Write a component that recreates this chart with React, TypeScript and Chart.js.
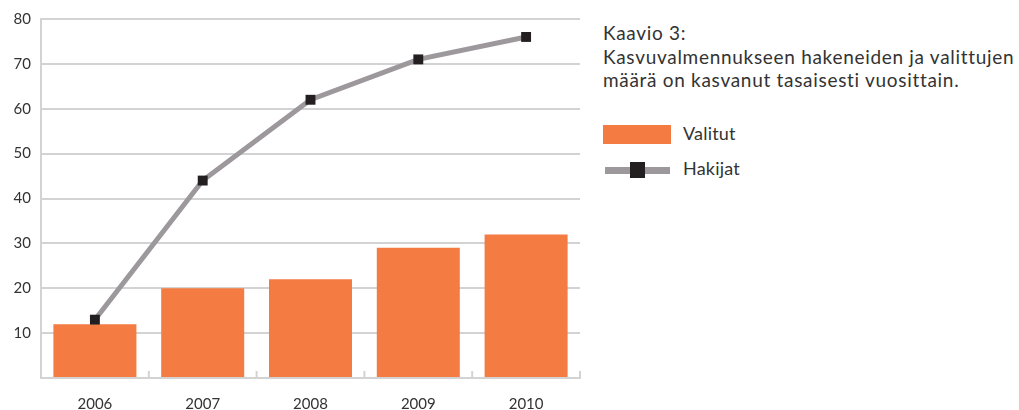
import React, { useEffect, useRef } from "react";
import { Chart, registerables } from "chart.js";

Chart.register(...registerables);

const years = ["2006", "2007", "2008", "2009", "2010"];
const valitut = [12, 20, 22, 29, 32];
const hakijat = [13, 44, 62, 71, 76];
const yTicks = [10, 20, 30, 40, 50, 60, 70, 80];

const captionTitle = "Kaavio 3:";
const captionLines = [
  "Kasvuvalmennukseen hakeneiden ja valittujen",
  "määrä on kasvanut tasaisesti vuosittain.",
];
const legendValitut = "Valitut";
const legendHakijat = "Hakijat";

const ORANGE = "#f47b42";
const LINE_GREY = "#9d989c";
const MARKER = "#231f20";
const GRID = "#d3d3d3";
const TEXT = "#333333";
const FONT = "Lato, 'Open Sans', sans-serif";

const boundaryTicks = {
  id: "boundaryTicks",
  afterDraw(chart: any) {
    const x = chart.scales.x;
    const area = chart.chartArea;
    const ctx = chart.ctx;
    ctx.save();
    ctx.strokeStyle = GRID;
    ctx.lineWidth = 2;
    for (let i = 1; i <= years.length; i++) {
      const px =
        i < years.length
          ? (x.getPixelForValue(i - 1) + x.getPixelForValue(i)) / 2
          : area.right;
      ctx.beginPath();
      ctx.moveTo(px, area.bottom);
      ctx.lineTo(px, area.bottom - 7);
      ctx.stroke();
    }
    ctx.restore();
  },
};

export default function App() {
  const ref = useRef<HTMLCanvasElement | null>(null);

  useEffect(() => {
    if (!ref.current) return;
    const chart = new Chart(ref.current, {
      type: "bar",
      data: {
        labels: years,
        datasets: [
          {
            type: "line",
            label: legendHakijat,
            data: hakijat,
            borderColor: LINE_GREY,
            borderWidth: 5,
            pointStyle: "rect",
            pointRadius: 7,
            pointBackgroundColor: MARKER,
            pointBorderColor: MARKER,
            pointBorderWidth: 0,
            tension: 0,
            order: 1,
          } as any,
          {
            type: "bar",
            label: legendValitut,
            data: valitut,
            backgroundColor: ORANGE,
            categoryPercentage: 1,
            barPercentage: 0.77,
            order: 2,
          },
        ],
      },
      options: {
        animation: false,
        responsive: false,
        maintainAspectRatio: false,
        layout: { padding: { top: 18, right: 10, left: 0, bottom: 0 } },
        plugins: {
          legend: { display: false },
          tooltip: { enabled: false },
        },
        scales: {
          x: {
            offset: true,
            grid: { display: false, drawTicks: false },
            border: { display: true, color: GRID, width: 2 },
            ticks: {
              color: TEXT,
              font: { family: FONT, size: 15 },
              padding: 17,
              maxRotation: 0,
            },
            afterFit(scale: any) {
              scale.height = 32;
            },
          },
          y: {
            min: 0,
            max: 80,
            afterBuildTicks(scale: any) {
              scale.ticks = [0, ...yTicks].map((v) => ({ value: v }));
            },
            grid: { color: GRID, lineWidth: 2, drawTicks: false },
            border: { display: true, color: GRID, width: 2 },
            ticks: {
              color: TEXT,
              font: { family: FONT, size: 15 },
              padding: 10,
              callback: (v: any) => (v === 0 ? "" : String(v)),
            },
            afterFit(scale: any) {
              scale.width = 41;
            },
          },
        },
      },
      plugins: [boundaryTicks],
    });
    return () => chart.destroy();
  }, []);

  const captionStyle = {
    fontSize: 19,
    letterSpacing: "0.7px",
  };
  const legendTextStyle = {
    fontSize: 18,
    letterSpacing: "0.2px",
  };

  return (
    <div
      style={{
        position: "absolute",
        left: 0,
        top: 0,
        width: 1019,
        height: 410,
        background: "#fff",
        fontFamily: FONT,
        color: TEXT,
      }}
    >
      <canvas
        ref={ref}
        width={590}
        height={410}
        style={{ position: "absolute", left: 0, top: 0, width: 590, height: 410 }}
      />
      <div
        style={{
          position: "absolute",
          left: 603,
          top: 21,
          lineHeight: "23.5px",
          whiteSpace: "nowrap",
          ...captionStyle,
        }}
      >
        <div>{captionTitle}</div>
        {captionLines.map((l) => (
          <div key={l}>{l}</div>
        ))}
      </div>
      <div
        style={{
          position: "absolute",
          left: 603,
          top: 125,
          width: 68,
          height: 19,
          background: ORANGE,
        }}
      />
      <div
        style={{
          position: "absolute",
          left: 683,
          top: 122,
          lineHeight: "22px",
          ...legendTextStyle,
        }}
      >
        {legendValitut}
      </div>
      <div
        style={{
          position: "absolute",
          left: 605,
          top: 167,
          width: 65,
          height: 7,
          background: LINE_GREY,
        }}
      />
      <div
        style={{
          position: "absolute",
          left: 630,
          top: 162,
          width: 15,
          height: 16,
          background: MARKER,
        }}
      />
      <div
        style={{
          position: "absolute",
          left: 683,
          top: 157,
          lineHeight: "22px",
          ...legendTextStyle,
        }}
      >
        {legendHakijat}
      </div>
    </div>
  );
}
